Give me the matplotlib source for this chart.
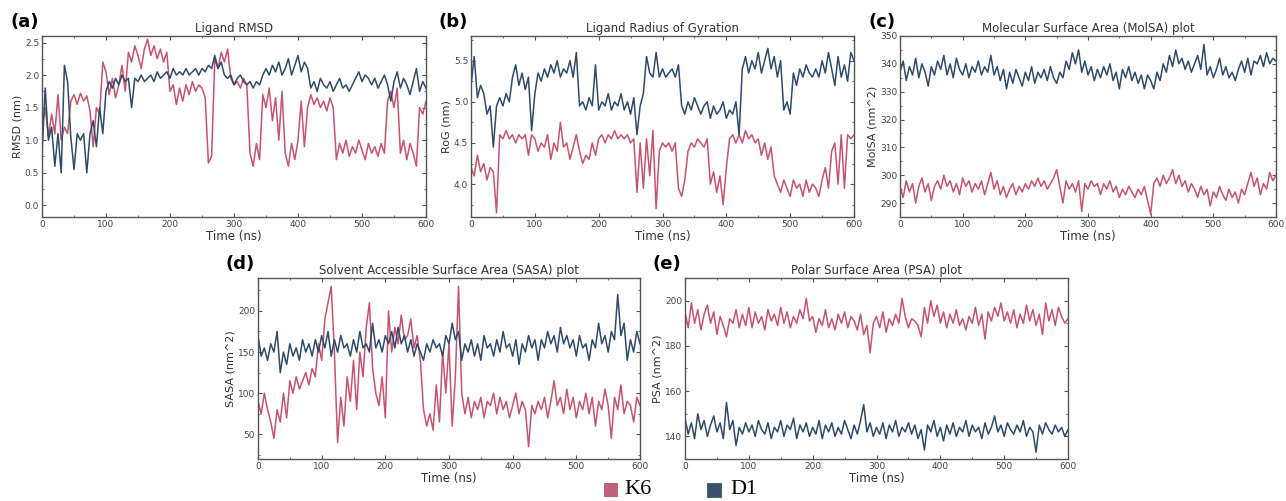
import numpy as np
import matplotlib
matplotlib.use("Agg")
import matplotlib.pyplot as plt
from matplotlib.patches import Rectangle
from matplotlib.ticker import MultipleLocator

# time grid (ns), one sample every 5 ns
time_ns = np.arange(0, 601, 5)

k6_rmsd = [1.2, 1.5, 1.05, 1.4, 1.1, 1.7, 1.0, 1.2, 1.1, 1.6, 1.7, 1.55, 1.72, 1.6, 1.68, 1.45, 0.9, 1.5, 1.4, 2.2,
           2.05, 1.7, 1.95, 1.65, 1.85, 2.15, 1.75, 2.35, 2.2, 2.45, 2.3, 2.1, 2.4, 2.55, 2.3, 2.45, 2.25, 2.4, 2.2, 2.35,
           1.75, 1.85, 1.55, 1.8, 1.6, 1.85, 1.7, 1.9, 1.75, 1.85, 1.8, 1.65, 0.65, 0.75, 2.25, 2.1, 2.35, 2.2, 2.4, 1.95,
           1.85, 1.9, 1.8, 1.95, 1.85, 0.8, 0.6, 0.95, 0.7, 1.7, 1.5, 1.8, 1.3, 1.65, 1.0, 1.75, 0.8, 0.6, 0.95, 0.7,
           1.0, 1.6, 0.9, 1.5, 1.7, 1.55, 1.65, 1.5, 1.6, 1.45, 1.65, 1.5, 0.7, 0.95, 0.8, 1.0, 0.75, 0.9, 0.8, 1.0,
           0.85, 0.7, 0.95, 0.8, 0.9, 0.75, 0.95, 0.8, 1.6, 1.75, 1.5, 1.8, 0.8, 1.0, 0.7, 0.95, 0.8, 0.6, 1.5, 1.4,
           1.6]
d1_rmsd = [0.8, 1.8, 1.0, 1.2, 0.6, 1.1, 0.5, 2.15, 1.9, 1.05, 0.55, 1.1, 1.0, 1.1, 0.5, 1.1, 1.3, 0.9, 1.5, 1.1,
           1.75, 1.9, 1.8, 1.95, 1.85, 2.0, 1.9, 1.95, 1.5, 1.95, 1.9, 2.0, 1.9, 1.95, 2.0, 1.9, 2.05, 1.95, 2.0, 2.05,
           1.95, 2.1, 2.0, 2.05, 2.0, 2.1, 2.0, 2.05, 2.1, 2.0, 2.1, 2.05, 2.15, 2.1, 2.3, 2.1, 2.2, 2.0, 1.95, 2.0,
           1.85, 1.95, 2.0, 1.9, 1.85, 1.9, 1.8, 1.9, 1.85, 2.0, 2.1, 2.0, 2.15, 2.05, 2.2, 2.0, 2.1, 2.25, 2.0, 2.15,
           2.3, 2.05, 2.2, 2.1, 1.8, 1.9, 1.75, 1.95, 1.85, 1.8, 1.9, 1.75, 1.85, 1.95, 1.8, 1.85, 1.75, 1.85, 1.95, 2.05,
           1.9, 2.0, 1.95, 1.85, 1.95, 1.8, 1.9, 2.0, 1.85, 1.6, 1.9, 2.05, 1.8, 1.95, 1.85, 1.7, 1.9, 2.1, 1.75, 1.9,
           1.8]

d1_rog = [5.2, 5.55, 5.05, 5.2, 5.1, 4.85, 4.95, 4.45, 4.95, 5.05, 4.95, 5.1, 5.0, 5.3, 5.45, 5.2, 5.35, 5.15, 5.3, 4.65,
          5.1, 5.35, 5.25, 5.4, 5.3, 5.45, 5.35, 5.5, 5.3, 5.4, 5.35, 5.5, 5.3, 5.6, 4.95, 5.0, 4.9, 5.05, 4.95, 5.45,
          4.9, 5.0, 4.95, 5.1, 4.9, 5.0, 4.95, 5.1, 4.9, 5.0, 4.85, 5.05, 4.6, 4.95, 5.1, 5.55, 5.35, 5.3, 5.6, 5.3,
          5.4, 5.3, 5.35, 5.4, 5.3, 5.45, 4.95, 4.85, 5.0, 4.9, 5.05, 4.95, 4.85, 4.95, 5.0, 4.8, 4.95, 4.85, 4.9, 5.0,
          4.8, 4.9, 4.85, 5.0, 4.6, 5.4, 5.55, 5.35, 5.5, 5.4, 5.6, 5.35, 5.5, 5.65, 5.4, 5.55, 5.3, 5.5, 4.9, 5.0,
          4.85, 5.35, 5.2, 5.4, 5.3, 5.45, 5.35, 5.3, 5.4, 5.3, 5.5, 5.35, 5.6, 5.4, 5.2, 5.55, 5.3, 5.45, 5.25, 5.6,
          5.5]
k6_rog = [4.2, 4.1, 4.35, 4.15, 4.25, 4.05, 4.2, 4.15, 3.65, 4.6, 4.55, 4.65, 4.55, 4.6, 4.5, 4.6, 4.55, 4.6, 4.35, 4.6,
          4.55, 4.4, 4.5, 4.45, 4.6, 4.3, 4.5, 4.4, 4.75, 4.45, 4.5, 4.3, 4.45, 4.6, 4.4, 4.25, 4.35, 4.3, 4.5, 4.35,
          4.55, 4.6, 4.5, 4.6, 4.55, 4.65, 4.55, 4.6, 4.55, 4.6, 4.5, 4.55, 3.9, 4.5, 3.95, 4.55, 4.1, 4.65, 3.7, 4.4,
          4.5, 4.45, 4.5, 4.4, 4.5, 3.95, 3.85, 4.05, 4.4, 4.5, 4.45, 4.55, 4.5, 4.45, 4.55, 4.0, 4.15, 3.9, 4.1, 3.75,
          4.2, 4.55, 4.6, 4.5, 4.6, 4.5, 4.65, 4.55, 4.6, 4.5, 4.55, 4.35, 4.5, 4.3, 4.45, 4.1, 4.0, 3.9, 4.05, 3.95,
          3.85, 4.05, 3.95, 4.0, 3.85, 4.05, 3.9, 4.0, 3.95, 3.85, 4.05, 4.2, 3.95, 4.4, 4.5, 4.0, 4.6, 3.95, 4.6, 4.55,
          4.6]

d1_molsa = [337, 341, 334, 339, 336, 342, 335, 340, 337, 332, 339, 336, 341, 338, 343, 336, 340, 335, 342, 338,
            336, 340, 335, 339, 337, 341, 336, 339, 337, 343, 336, 339, 334, 338, 331, 337, 333, 338, 335, 332,
            337, 334, 339, 333, 337, 335, 338, 334, 339, 335, 333, 337, 335, 341, 338, 344, 340, 345, 337, 341,
            336, 339, 334, 338, 335, 339, 336, 340, 334, 337, 331, 338, 335, 339, 334, 337, 333, 336, 331, 336,
            334, 331, 337, 334, 340, 337, 343, 339, 345, 340, 342, 338, 341, 337, 340, 343, 338, 347, 336, 339,
            335, 338, 342, 336, 339, 335, 337, 334, 338, 341, 337, 342, 336, 341, 340, 343, 339, 344, 340, 342,
            341]
k6_molsa = [296, 292, 298, 294, 297, 290, 296, 299, 294, 297, 291, 296, 298, 295, 300, 296, 298, 294, 297, 293,
            299, 296, 298, 294, 297, 295, 298, 293, 297, 301, 295, 298, 293, 296, 292, 295, 297, 293, 296, 294,
            297, 295, 298, 296, 299, 296, 298, 295, 297, 299, 302, 296, 290, 298, 295, 297, 294, 298, 287, 297,
            295, 298, 296, 297, 293, 297, 295, 298, 294, 296, 292, 295, 293, 296, 294, 292, 295, 293, 296, 291,
            286, 297, 299, 296, 300, 297, 299, 302, 297, 300, 296, 298, 294, 297, 295, 292, 296, 293, 295, 289,
            294, 292, 296, 293, 291, 295, 292, 294, 290, 295, 293, 297, 301, 296, 299, 293, 297, 295, 301, 298,
            300]

d1_sasa = [170, 145, 155, 140, 160, 150, 175, 125, 150, 135, 160, 145, 155, 140, 165, 150, 160, 145, 165, 150,
           170, 155, 175, 145, 165, 150, 170, 155, 160, 145, 165, 150, 175, 155, 160, 150, 185, 155, 165, 150,
           170, 160, 175, 155, 180, 160, 170, 150, 165, 145, 160, 150, 140, 160, 150, 165, 155, 160, 145, 170,
           160, 185, 165, 175, 140, 160, 150, 165, 145, 160, 140, 170, 155, 160, 145, 165, 150, 175, 155, 160,
           145, 165, 135, 160, 150, 170, 155, 165, 140, 165, 155, 175, 160, 170, 150, 180, 160, 170, 155, 165,
           145, 170, 155, 160, 140, 165, 155, 185, 160, 170, 150, 175, 165, 220, 170, 185, 140, 165, 150, 175,
           160]
k6_sasa = [90, 75, 100, 80, 65, 45, 80, 65, 100, 70, 115, 100, 120, 105, 115, 125, 110, 130, 120, 160,
           140, 190, 210, 230, 150, 40, 95, 60, 120, 90, 140, 80, 150, 120, 180, 210, 130, 100, 85, 120,
           70, 200, 150, 180, 160, 195, 165, 170, 190, 155, 170, 140, 80, 60, 75, 55, 110, 65, 150, 100,
           160, 60, 120, 230, 100, 75, 95, 70, 90, 80, 95, 70, 90, 85, 100, 75, 95, 80, 90, 70,
           85, 100, 75, 90, 80, 35, 85, 75, 90, 80, 95, 70, 90, 115, 85, 95, 75, 105, 80, 95,
           70, 90, 80, 100, 75, 95, 60, 90, 80, 105, 85, 45, 95, 80, 110, 75, 90, 85, 65, 95,
           85]

k6_psa = [195, 188, 199, 190, 196, 187, 194, 198, 190, 195, 185, 193, 189, 184, 192, 190, 196, 188, 194, 189,
          197, 188, 195, 190, 193, 187, 196, 191, 194, 189, 197, 190, 195, 188, 193, 190, 196, 192, 201, 191,
          193, 186, 192, 189, 196, 188, 192, 187, 194, 190, 195, 188, 193, 191, 187, 194, 185, 189, 177, 190,
          193, 188, 195, 186, 192, 189, 194, 190, 201, 193, 188, 192, 191, 189, 184, 197, 190, 200, 193, 198,
          190, 195, 188, 194, 190, 196, 189, 192, 187, 193, 190, 197, 189, 194, 183, 195, 191, 197, 193, 199,
          191, 195, 190, 196, 188, 194, 190, 198, 191, 196, 189, 194, 185, 199, 191, 196, 189, 197, 193, 190,
          192]
d1_psa = [148, 141, 146, 139, 150, 143, 147, 140, 145, 149, 142, 146, 139, 155, 143, 147, 136, 144, 141, 146,
          142, 145, 140, 147, 143, 141, 146, 139, 144, 142, 147, 140, 145, 143, 148, 139, 145, 142, 146, 140,
          144, 141, 147, 139, 145, 142, 146, 140, 144, 141, 147, 143, 139, 145, 141, 147, 154, 142, 146, 140,
          144, 141, 146, 139, 145, 142, 147, 140, 144, 142, 146, 141, 145, 139, 143, 134, 145, 142, 147, 140,
          144, 138, 145, 141, 146, 140, 144, 142, 147, 140, 145, 142, 144, 139, 146, 141, 144, 149, 142, 145,
          140, 146, 143, 141, 145, 142, 147, 140, 144, 142, 133, 145, 141, 146, 143, 141, 145, 142, 144, 140,
          143]

K6_COLOR = "#c9536f"
D1_COLOR = "#2e4a6d"
W, H = 1286, 501


def px_rect(left, right, top, bottom):
    return [left / W, 1 - bottom / H, (right - left) / W, (bottom - top) / H]


def style_axes(ax, ylim, ymajor, yminor):
    ax.set_xlim(0, 600)
    ax.set_ylim(*ylim)
    ax.xaxis.set_major_locator(MultipleLocator(100))
    ax.xaxis.set_minor_locator(MultipleLocator(50))
    ax.yaxis.set_major_locator(MultipleLocator(ymajor))
    ax.yaxis.set_minor_locator(MultipleLocator(yminor))
    ax.tick_params(which="both", direction="in", top=True, right=True,
                   labelsize=6.5, labelcolor="#444444", color="#555555", pad=2)
    ax.tick_params(which="major", length=3)
    ax.tick_params(which="minor", length=1.5)
    for sp in ax.spines.values():
        sp.set_color("#555555")
        sp.set_linewidth(1.0)
    ax.set_xlabel("Time (ns)", fontsize=8.5, color="#333333", labelpad=1)


fig = plt.figure(figsize=(W / 100, H / 100), dpi=100)

panels = [
    ("(a)", "Ligand RMSD", "RMSD (nm)", k6_rmsd, d1_rmsd, (42, 426, 36, 217), (-0.18, 2.6), 0.5, 0.25),
    ("(b)", "Ligand Radius of Gyration", "RoG (nm)", k6_rog, d1_rog, (471, 854, 36, 217), (3.6, 5.8), 0.5, 0.25),
    ("(c)", "Molecular Surface Area (MolSA) plot", "MolSA (nm^2)", k6_molsa, d1_molsa, (900, 1276, 36, 217), (285, 350), 10, 5),
    ("(d)", "Solvent Accessible Surface Area (SASA) plot", "SASA (nm^2)", k6_sasa, d1_sasa, (258, 640, 278, 459), (20, 240), 50, 25),
    ("(e)", "Polar Surface Area (PSA) plot", "PSA (nm^2)", k6_psa, d1_psa, (685, 1068, 278, 459), (130, 210), 20, 10),
]

for tag, title, ylabel, k6, d1, box, ylim, ymaj, ymin in panels:
    ax = fig.add_axes(px_rect(*box))
    ax.plot(time_ns, k6, color=K6_COLOR, lw=1.1)
    ax.plot(time_ns, d1, color=D1_COLOR, lw=1.1)
    style_axes(ax, ylim, ymaj, ymin)
    ax.set_title(title, fontsize=8.5, color="#333333", pad=3)
    ax.set_ylabel(ylabel, fontsize=8, color="#333333", labelpad=2)
    left, _, top, _ = box
    fig.text((left - 32) / W, 1 - (top - 14) / H, tag, fontsize=13, fontweight="bold",
             ha="left", va="center")

# legend at the bottom
fig.patches.append(Rectangle((604 / W, 1 - 497 / H), 14 / W, 14 / H, transform=fig.transFigure,
                             facecolor="#c0617c", edgecolor="none"))
fig.text(624 / W, 1 - 490 / H, "K6", fontsize=16, family="Liberation Serif", va="center")
fig.patches.append(Rectangle((707 / W, 1 - 497 / H), 14 / W, 14 / H, transform=fig.transFigure,
                             facecolor="#3e4f6a", edgecolor="#3f6f6a", linewidth=0.8))
fig.text(730 / W, 1 - 490 / H, "D1", fontsize=16, family="Liberation Serif", va="center")

fig.savefig("out.png", dpi=100)
